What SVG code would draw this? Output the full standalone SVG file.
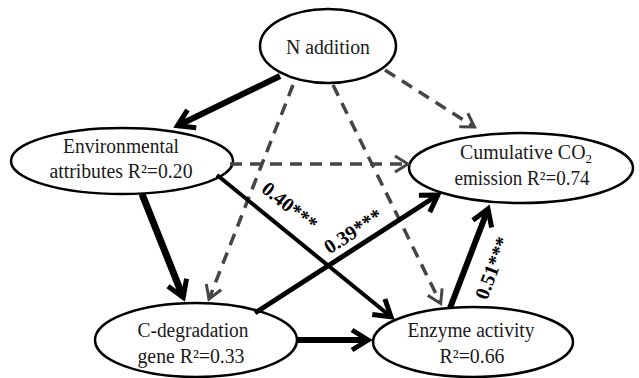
<svg xmlns="http://www.w3.org/2000/svg" width="639" height="378" viewBox="0 0 639 378">
<style>
.node ellipse{fill:#fff;stroke:#000;stroke-width:2.5}
.node text{font-family:"Liberation Serif","Times New Roman",serif;font-size:20px;fill:#1a1a1a;text-anchor:middle}
.sub{font-size:13px}
.blk{fill:none;stroke:#000;marker-end:url(#ab)}
.dsh{fill:none;stroke:#454545;stroke-width:3.5;stroke-dasharray:12 8;marker-end:url(#ag)}
.lbl{font-family:"Liberation Serif","Times New Roman",serif;font-size:20px;font-weight:bold;fill:#000;text-anchor:middle}
</style>
<defs>
<marker id="ab" markerUnits="userSpaceOnUse" viewBox="-24 -14 30 28" markerWidth="30" markerHeight="28" refX="0" refY="0" orient="auto" overflow="visible">
<path d="M-16,-10 L0,0 L-16,10" fill="none" stroke="#000" stroke-width="5"/>
</marker>
<marker id="ag" markerUnits="userSpaceOnUse" viewBox="-20 -12 26 24" markerWidth="26" markerHeight="24" refX="0" refY="0" orient="auto" overflow="visible">
<path d="M-13,-8 L0,0 L-13,8" fill="none" stroke="#454545" stroke-width="3"/>
</marker>
</defs>
<rect width="639" height="378" fill="#fff"/>
<g id="n-addition" class="node">
<ellipse cx="328" cy="46" rx="68" ry="37"/>
<text x="328" y="54" textLength="84" lengthAdjust="spacingAndGlyphs">N addition</text>
</g>
<g id="env" class="node">
<ellipse cx="122" cy="161" rx="111" ry="33"/>
<text x="121" y="153" textLength="116" lengthAdjust="spacingAndGlyphs">Environmental</text>
<text x="121" y="178" textLength="143" lengthAdjust="spacingAndGlyphs">attributes R²=0.20</text>
</g>
<g id="cum" class="node">
<ellipse cx="521" cy="168" rx="112" ry="35"/>
<text x="526" y="159" textLength="132" lengthAdjust="spacingAndGlyphs">Cumulative CO<tspan class="sub" dy="4">2</tspan></text>
<text x="522" y="185" textLength="135" lengthAdjust="spacingAndGlyphs">emission R²=0.74</text>
</g>
<g id="cdeg" class="node">
<ellipse cx="196" cy="340" rx="101" ry="37"/>
<text x="193" y="337" textLength="111" lengthAdjust="spacingAndGlyphs">C-degradation</text>
<text x="191" y="363" textLength="107" lengthAdjust="spacingAndGlyphs">gene R²=0.33</text>
</g>
<g id="enz" class="node">
<ellipse cx="473" cy="342" rx="100" ry="35"/>
<text x="471" y="337" textLength="127" lengthAdjust="spacingAndGlyphs">Enzyme activity</text>
<text x="472" y="363" textLength="65" lengthAdjust="spacingAndGlyphs">R²=0.66</text>
</g>
<g id="connectors">
<line class="blk" x1="280" y1="76" x2="177.5" y2="125.8" stroke-width="6"/>
<line class="dsh" x1="385" y1="70" x2="474.5" y2="127"/>
<line class="dsh" x1="293" y1="85" x2="209" y2="299"/>
<line class="dsh" x1="333" y1="85" x2="440.7" y2="303.5"/>
<line class="dsh" x1="230" y1="164" x2="408" y2="164"/>
<line class="blk" x1="142" y1="194" x2="183.2" y2="297.3" stroke-width="7"/>
<line class="blk" x1="217" y1="175" x2="391" y2="316.8" stroke-width="4"/>
<line class="blk" x1="255" y1="313" x2="437.8" y2="195" stroke-width="5"/>
<line class="blk" x1="298" y1="340" x2="368" y2="340" stroke-width="6"/>
<line class="blk" x1="450" y1="308" x2="488" y2="209" stroke-width="6"/>
<text class="lbl" transform="translate(290,206) rotate(39)" y="7">0.40***</text>
<text class="lbl" transform="translate(353,231) rotate(-33)" y="7">0.39***</text>
<text class="lbl" transform="translate(492,268) rotate(-69)" y="7">0.51***</text>
</g>
</svg>
